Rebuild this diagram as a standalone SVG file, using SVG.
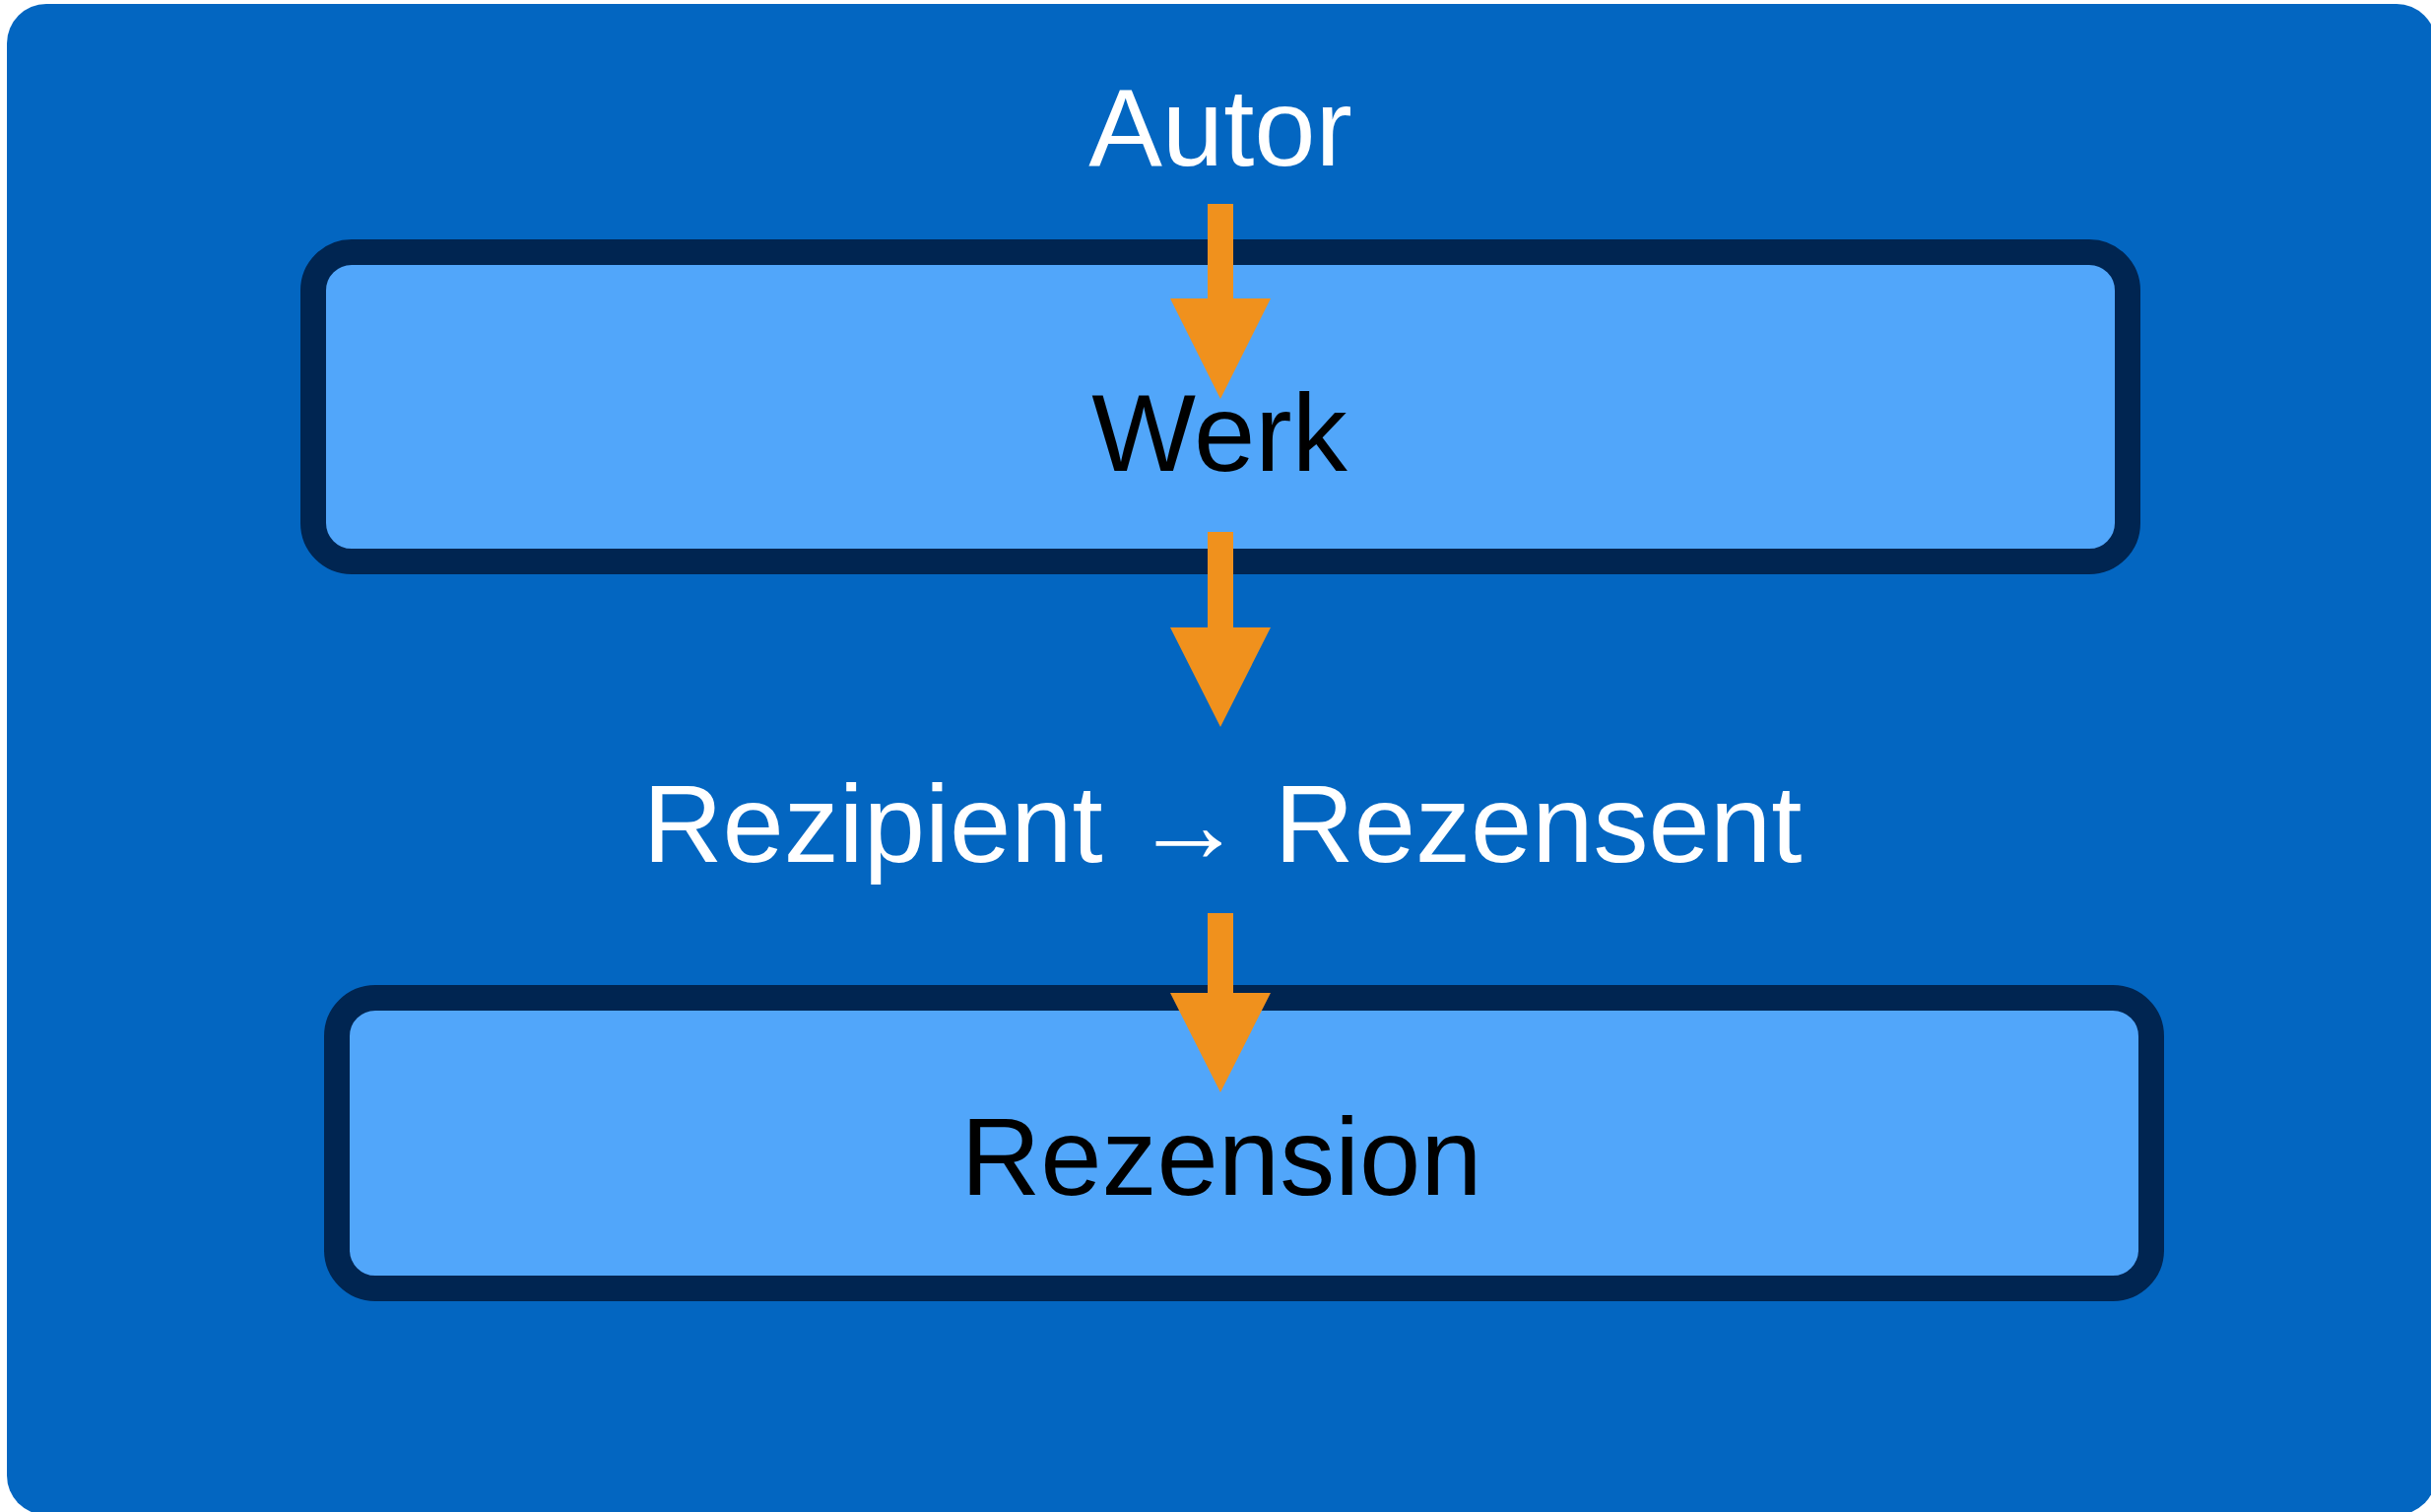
<svg xmlns="http://www.w3.org/2000/svg" width="2468" height="1535" viewBox="0 0 2468 1535">
  <style>
    .page { fill: #0366C1; }
    .box { fill: #51A6FA; stroke: #002551; stroke-width: 26; }
    .flow { fill: #F0911D; }
    .label { font-family: "Liberation Sans", Arial, Helvetica, sans-serif; font-size: 112px; text-anchor: middle; }
    .light { fill: #FFFFFF; }
    .dark { fill: #000000; }
    .sym { font-weight: bold; }
  </style>

  <!-- page background -->
  <rect class="page" x="7" y="4" width="2466" height="1534" rx="40" ry="40"/>

  <!-- author label -->
  <g id="autor">
    <text class="label light" x="1239" y="168">Autor</text>
  </g>

  <!-- work box -->
  <g id="werk">
    <rect class="box" x="318" y="256" width="1842" height="314" rx="39" ry="39"/>
    <text class="label dark" x="1238" y="478">Werk</text>
  </g>

  <!-- recipient becomes reviewer -->
  <g id="rezipient-rezensent">
    <text class="label light" x="1241" y="875">Rezipient <tspan class="sym">→</tspan> Rezensent</text>
  </g>

  <!-- review box -->
  <g id="rezension">
    <rect class="box" x="342" y="1013" width="1842" height="295" rx="39" ry="39"/>
    <text class="label dark" x="1240" y="1213">Rezension</text>
  </g>

  <!-- block arrows between the stages -->
  <g id="connectors">
    <polygon class="flow" points="1226,207 1252,207 1252,303 1290,303 1239,405 1188,303 1226,303"/>
    <polygon class="flow" points="1226,540 1252,540 1252,637 1290,637 1239,738 1188,637 1226,637"/>
    <polygon class="flow" points="1226,927 1252,927 1252,1008 1290,1008 1239,1109 1188,1008 1226,1008"/>
  </g>
</svg>
